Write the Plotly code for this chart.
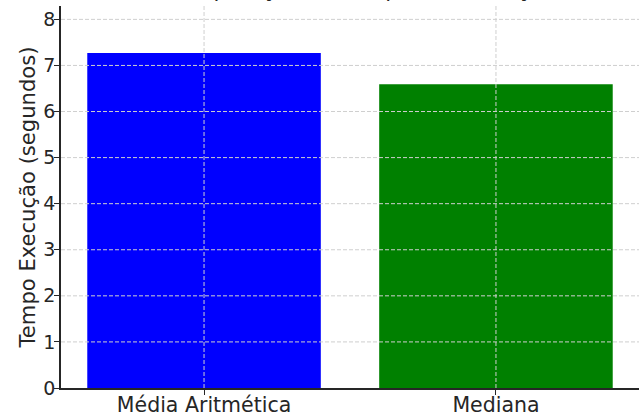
import plotly.graph_objects as go

categories = ["Média Aritmética", "Mediana"]
values = [7.27, 6.59]
colors = ["#0000ff", "#008000"]
y_ticks = [0, 1, 2, 3, 4, 5, 6, 7, 8]

FONT = "DejaVu Sans"
grid_color = "#cfcfcf"

fig = go.Figure()

fig.add_trace(go.Bar(
    x=list(range(len(categories))),
    y=values,
    marker=dict(color=colors, line=dict(width=0)),
    width=0.8,
    showlegend=False,
))

# matplotlib-style dashed grid drawn above the bars
shapes = []
for t in y_ticks[1:]:
    shapes.append(dict(
        type="line", xref="paper", yref="y", x0=0, x1=1, y0=t, y1=t,
        line=dict(color=grid_color, width=1, dash="4px,2px"), layer="above",
    ))
for i in range(len(categories)):
    shapes.append(dict(
        type="line", xref="x", yref="paper", x0=i, x1=i, y0=0, y1=1,
        line=dict(color=grid_color, width=1, dash="4px,2px"), layer="above",
    ))

fig.update_layout(
    width=639,
    height=417,
    margin=dict(l=61, r=0, t=6, b=29),
    paper_bgcolor="white",
    plot_bgcolor="white",
    font=dict(family=FONT, size=19, color="#262626"),
    title=dict(
        text="Comparação do Tempo de Execução",
        font=dict(family=FONT, size=21.6, color="#262626"),
        xref="container", x=360 / 639, xanchor="center",
        yref="paper", y=1, yanchor="bottom",
        pad=dict(b=9),
    ),
    shapes=shapes,
    xaxis=dict(
        range=[-0.49, 1.49],
        tickmode="array",
        tickvals=list(range(len(categories))),
        ticktext=categories,
        tickfont=dict(size=20.5),
        ticklabelstandoff=-7,
        automargin=False,
        showgrid=False,
        zeroline=False,
        showline=True,
        linecolor="#262626",
        linewidth=1.5,
        ticks="outside",
        ticklen=5,
        tickwidth=1.2,
        tickcolor="#262626",
    ),
    yaxis=dict(
        title=dict(text="Tempo Execução (segundos)", standoff=2, font=dict(size=21.1)),
        range=[0, 8.29],
        tickmode="array",
        tickvals=y_ticks,
        ticklabelstandoff=-5,
        automargin=False,
        showgrid=False,
        zeroline=False,
        showline=True,
        linecolor="#262626",
        linewidth=1.5,
        ticks="outside",
        ticklen=5,
        tickwidth=1.2,
        tickcolor="#262626",
    ),
)

fig.write_html(
    "out.html",
    config={"displayModeBar": False},
    post_script="document.body.style.margin='0';document.body.style.overflow='hidden';",
)
